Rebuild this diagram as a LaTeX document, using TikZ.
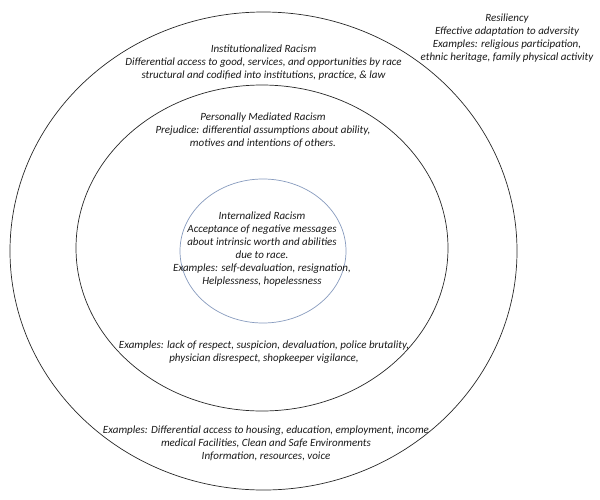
\documentclass[tikz,border=0pt]{standalone}
\usepackage{fontspec}
\setmainfont{Carlito}
\usetikzlibrary{shapes.geometric}
\definecolor{ringblue}{RGB}{135,155,190}
\definecolor{ringgray}{RGB}{40,40,40}
\definecolor{txt}{RGB}{25,25,25}
\begin{document}
\begin{tikzpicture}[x=1pt,y=-1pt,
  ring/.style={ellipse, draw=ringgray, inner sep=0pt, line width=0.7pt},
  lbl/.style={align=center, anchor=north, font=\fontsize{11}{13}\selectfont\itshape, text=txt, inner sep=0pt}]
\useasboundingbox[fill=white] (0,0) rectangle (600,499);
\node[ring, minimum width=507pt, minimum height=478pt] (outer) at (263.5,251) {};
\node[ring, minimum width=372pt, minimum height=326pt] (middle) at (262,248) {};
\node[ring, draw=ringblue, minimum width=166pt, minimum height=144pt] (inner) at (263,251) {};
\node[lbl] (resil) at (507,14) {Resiliency\\Effective adaptation to adversity\\Examples: religious participation,\\ethnic heritage, family physical activity};
\node[lbl] (inst) at (263.5,44.5) {Institutionalized Racism\\Differential access to good, services, and opportunities by race\\structural and codified into institutions, practice, \& law};
\node[lbl] (pers) at (263,112.5) {Personally Mediated Racism\\Prejudice: differential assumptions about ability,\\motives and intentions of others.};
\node[lbl] (intl) at (262,211.5) {Internalized Racism\\Acceptance of negative messages\\about intrinsic worth and abilities\\due to race.\\Examples: self-devaluation, resignation,\\Helplessness, hopelessness};
\node[lbl] (persex) at (264,340.5) {Examples: lack of respect, suspicion, devaluation, police brutality,\\physician disrespect, shopkeeper vigilance,};
\node[lbl] (instex) at (266,425.5) {Examples: Differential access to housing, education, employment, income\\medical Facilities, Clean and Safe Environments\\Information, resources, voice};
\end{tikzpicture}
\end{document}
